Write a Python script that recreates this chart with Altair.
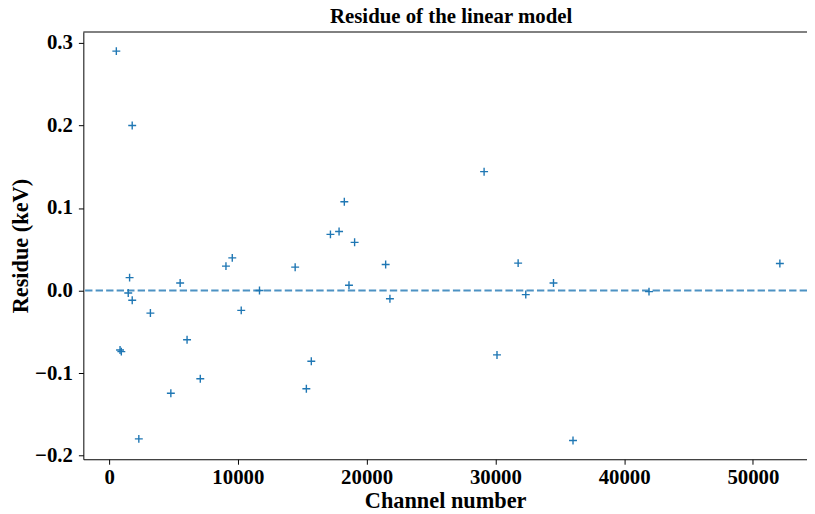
import altair as alt
import pandas as pd

# Channel numbers and residues (keV)
channel = [562, 1795, 1592, 1487, 1796, 850, 950, 3208, 5518, 2309,
           4796, 6055, 7082, 9076, 9566, 10262, 11680, 14450, 18268, 17190,
           17860, 19067, 18630, 21478, 21810, 15704, 15320, 29123, 30125, 31767,
           32360, 34512, 36028, 41930, 52093]
residue = [0.290, 0.200, 0.0156, -0.003, -0.0117, -0.072, -0.074, -0.0273, 0.0092, -0.1797,
           -0.1245, -0.0597, -0.1069, 0.0296, 0.0396, -0.0240, 0.0000, 0.0283, 0.1076, 0.0680,
           0.0716, 0.0584, 0.0064, 0.0316, -0.0100, -0.0857, -0.1190, 0.1440, -0.0780, 0.0332,
           -0.0049, 0.0092, -0.1817, -0.0013, 0.0328]

x_ticks = [0, 10000, 20000, 30000, 40000, 50000]
y_ticks = [-0.2, -0.1, 0.0, 0.1, 0.2, 0.3]

title_text = "Residue of the linear model"
x_title = "Channel number"
y_title = "Residue (keV)"

df = pd.DataFrame({"channel": channel, "residue": residue})
zero = pd.DataFrame({"residue": [0.0]})
title_df = pd.DataFrame({"t": [title_text]})

FONT = "Liberation Serif"
BLUE = "#1f77b4"

xscale = alt.Scale(domain=[-2000, 54200], nice=False, zero=False)
yscale = alt.Scale(domain=[-0.2044, 0.3132], nice=False, zero=False)

points = alt.Chart(df).mark_point(
    shape="M-1,0L1,0M0,-1L0,1",
    filled=False,
    size=64,
    strokeWidth=1.4,
    color=BLUE,
    opacity=1,
).encode(
    x=alt.X("channel:Q", scale=xscale,
            axis=alt.Axis(values=x_ticks, title=x_title, format="d",
                          labelFlush=False, labelOverlap=False)),
    y=alt.Y("residue:Q", scale=yscale,
            axis=alt.Axis(values=y_ticks, title=y_title, format=".1f",
                          labelFlush=False, labelOverlap=False)),
)

rule = alt.Chart(zero).mark_rule(
    color=BLUE, strokeWidth=2, strokeDash=[7.4, 3.2], opacity=0.8
).encode(y=alt.Y("residue:Q", scale=yscale))

top_spine = alt.Chart(zero).mark_rule(color="black", strokeWidth=1).encode(
    x=alt.value(0), x2=alt.value(730), y=alt.value(0)
)

title_mark = alt.Chart(title_df).mark_text(
    font=FONT, fontSize=21, fontWeight="bold", color="black",
    align="center", baseline="alphabetic",
).encode(text="t:N", x=alt.value(371), y=alt.value(-9.5))

chart = alt.layer(rule, points, top_spine, title_mark).properties(
    width=730,
    height=431,
    padding={"left": 76, "top": 22, "right": 0, "bottom": 52},
    autosize=alt.AutoSizeParams(type="none"),
).configure_view(
    stroke=None
).configure_axis(
    grid=False,
    domainColor="black",
    domainWidth=1,
    tickColor="black",
    tickWidth=1,
    tickSize=5,
    labelFont=FONT,
    labelFontSize=21,
    labelFontWeight="bold",
    labelColor="black",
    titleFont=FONT,
    titleFontSize=22.5,
    titleFontWeight="bold",
    titleColor="black",
).configure_axisX(
    labelPadding=2,
    titlePadding=3,
).configure_axisY(
    labelPadding=6,
    titlePadding=2,
)

chart.save("out.html", embed_options={"renderer": "svg", "actions": False})
